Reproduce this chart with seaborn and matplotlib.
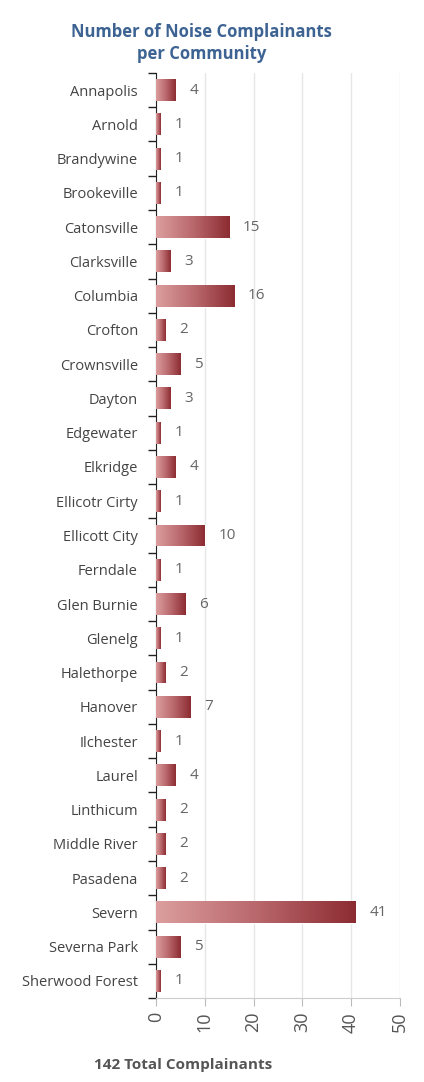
import numpy as np
import pandas as pd
import matplotlib
matplotlib.use("Agg")
import matplotlib.pyplot as plt
from matplotlib.colors import LinearSegmentedColormap
import seaborn as sns

# data
communities = ['Annapolis', 'Arnold', 'Brandywine', 'Brookeville', 'Catonsville',
               'Clarksville', 'Columbia', 'Crofton', 'Crownsville', 'Dayton',
               'Edgewater', 'Elkridge', 'Ellicotr Cirty', 'Ellicott City', 'Ferndale',
               'Glen Burnie', 'Glenelg', 'Halethorpe', 'Hanover', 'Ilchester',
               'Laurel', 'Linthicum', 'Middle River', 'Pasadena', 'Severn',
               'Severna Park', 'Sherwood Forest']
complaints = [4, 1, 1, 1, 15, 3, 16, 2, 5, 3, 1, 4, 1, 10, 1, 6, 1, 2, 7, 1,
              4, 2, 2, 2, 41, 5, 1]
x_ticks = [0, 10, 20, 30, 40, 50]

df = pd.DataFrame({'community': communities, 'complaints': complaints})

sns.set_style("white")
plt.rcParams['font.family'] = ['Open Sans', 'DejaVu Sans']

fig = plt.figure(figsize=(4.24, 10.82), dpi=100)
ax = fig.add_axes([0.368, 0.0776, 0.575, 0.855])

sns.barplot(data=df, x='complaints', y='community', orient='h', color='#b5585c',
            width=0.64, ax=ax)

# gradient fill clipped to each bar
cmap = LinearSegmentedColormap.from_list('grad', ['#dc9e9e', '#b9686c', '#8c2c32'])
grad = np.linspace(0, 1, 256).reshape(1, -1)
for p in ax.patches:
    x0, y0 = p.get_x(), p.get_y()
    w, h = p.get_width(), p.get_height()
    im = ax.imshow(grad, cmap=cmap, aspect='auto', extent=[x0, x0 + w, y0 + h, y0],
                   zorder=3, interpolation='bilinear')
    im.set_clip_path(p)

for i, v in enumerate(complaints):
    ax.text(v + 2.8, i, str(v), va='center', ha='left', fontsize=11, color='#666666')

ax.set_xlim(0, 50)
ax.set_ylim(len(communities) - 0.5, -0.5)
ax.set_xticks(x_ticks)
ax.set_xticklabels([str(t) for t in x_ticks], rotation=90, fontsize=13, color='#555555')
ax.set_yticks(range(len(communities)))
ax.set_yticklabels(communities, fontsize=10.5, color='#444444')
ax.set_yticks(np.arange(-0.5, len(communities), 1), minor=True)
ax.tick_params(axis='y', which='major', length=0, pad=13)
ax.tick_params(axis='y', which='minor', left=True, length=6, direction='out',
               color='#222222', width=1)
ax.tick_params(axis='x', which='major', bottom=True, length=6, direction='out',
               color='#bbbbbb', pad=4)

ax.grid(axis='x', color='#e6e6e6', linewidth=1)
ax.set_axisbelow(True)
ax.set_xlabel('')
ax.set_ylabel('')
for s in ['top', 'right']:
    ax.spines[s].set_visible(False)
ax.spines['left'].set_color('#222222')
ax.spines['bottom'].set_color('#cccccc')

fig.text(0.475, 0.979, 'Number of Noise Complainants\nper Community', ha='center', va='top',
         fontsize=12, fontweight='bold', color='#3d6393', linespacing=1.3)
fig.text(0.432, 0.009, '142 Total Complainants', ha='center', va='bottom',
         fontsize=11, fontweight='bold', color='#555555')

fig.savefig('out.png', dpi=100)
